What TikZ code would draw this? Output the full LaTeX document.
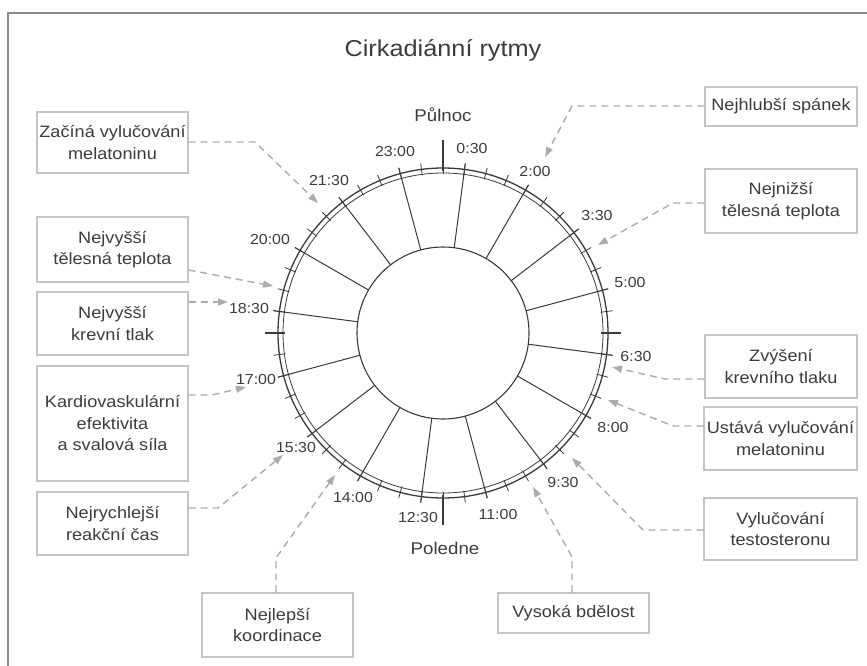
\documentclass[tikz,border=0pt]{standalone}
\usepackage{fontspec}
\setmainfont{Liberation Sans}[FakeStretch=1.1]
\usetikzlibrary{arrows.meta,calc}
\definecolor{txt}{HTML}{3C3C3C}
\definecolor{boxc}{HTML}{C4C4C4}
\definecolor{connc}{HTML}{ABABAB}
\definecolor{clk}{HTML}{3A3A3A}
\definecolor{frm}{HTML}{8A8A8A}
\begin{document}
\begin{tikzpicture}[x=1pt,y=-1pt,
  infobox/.style={draw=boxc, line width=1.1pt, text=txt, align=center, inner sep=0pt,
    font=\fontsize{16.5}{21.5}\selectfont},
  connector/.style={draw=connc, line width=1.4pt, dash pattern=on 7pt off 5pt,
    -{Triangle[length=10pt,width=7pt,fill=connc]}},
  timelbl/.style={text=txt, inner sep=0pt, font=\fontsize{14.5}{16}\selectfont},
  bigtxt/.style={text=txt, inner sep=0pt, font=\fontsize{17}{20}\selectfont},
  spoke/.style={draw=clk, line width=1.0pt},
  ringline/.style={draw=clk, line width=1.1pt},
  smalltick/.style={draw=clk, line width=0.8pt}]
\useasboundingbox (0,0) rectangle (867,666);
% frame
\draw[frm, line width=2pt] (8,670) -- (8,13) -- (870,13);
% title
\node[text=txt, inner sep=0pt, font=\fontsize{23}{26}\selectfont] (title) at (443,50) {Cirkadiánní rytmy};
% clock
\coordinate (C) at (443,333);
\begin{scope}[shift={(443,333)}]
  \draw[ringline] (0,0) circle[radius=86];
  \draw[ringline, line width=1.3pt] (0,0) circle[radius=165];
  \draw[ringline, line width=0.8pt] (0,0) circle[radius=160];
  \foreach \j in {0,...,47}{
    \pgfmathsetmacro\ang{\j*7.5-90}
    \draw[smalltick] (\ang:159) -- (\ang:171);
  }
  \foreach \k in {0,...,15}{
    \pgfmathsetmacro\ang{(0.5+1.5*\k)*15-90}
    \draw[spoke] (\ang:86) -- (\ang:171);
  }
  \draw[clk, line width=1.8pt] (-90:162) -- (-90:193);
  \draw[clk, line width=1.8pt] (90:162) -- (90:192);
  \draw[clk, line width=1.3pt] (0:158) -- (0:178);
  \draw[clk, line width=1.3pt] (180:158) -- (180:178);
\end{scope}
\node[bigtxt] (pulnoc) at (443,115) {Půlnoc};
\node[bigtxt] (poledne) at (445,548) {Poledne};
% time labels
\node[timelbl] (l2300) at (395,152) {23:00};
\node[timelbl] (l0030) at (472,149) {0:30};
\node[timelbl] (l0200) at (535,172) {2:00};
\node[timelbl] (l0330) at (597,216) {3:30};
\node[timelbl] (l0500) at (630,283) {5:00};
\node[timelbl] (l0630) at (636,357) {6:30};
\node[timelbl] (l0800) at (613,428) {8:00};
\node[timelbl] (l0930) at (563,483) {9:30};
\node[timelbl] (l1100) at (498,515) {11:00};
\node[timelbl] (l1230) at (418,518) {12:30};
\node[timelbl] (l1400) at (353,498) {14:00};
\node[timelbl] (l1530) at (296,448) {15:30};
\node[timelbl] (l1700) at (256,380) {17:00};
\node[timelbl] (l1830) at (249,309) {18:30};
\node[timelbl] (l2000) at (270,240) {20:00};
\node[timelbl] (l2130) at (329,181) {21:30};
% boxes
\node[infobox, minimum width=151pt, minimum height=61pt] (b1) at (112.5,142.5) {Začíná vylučování\\melatoninu};
\node[infobox, minimum width=151pt, minimum height=65pt] (b2) at (112.5,249.5) {Nejvyšší\\tělesná teplota};
\node[infobox, minimum width=151pt, minimum height=63pt] (b3) at (112.5,323.5) {Nejvyšší\\krevní tlak};
\node[infobox, minimum width=151pt, minimum height=115pt] (b4) at (112.5,423.5) {Kardiovaskulární\\efektivita\\a svalová síla};
\node[infobox, minimum width=151pt, minimum height=63pt] (b5) at (112.5,523.5) {Nejrychlejší\\reakční čas};
\node[infobox, minimum width=151pt, minimum height=64pt] (b6) at (277.5,625) {Nejlepší\\koordinace};
\node[infobox, minimum width=151pt, minimum height=40pt] (b7) at (573.5,613) {Vysoká bdělost};
\node[infobox, minimum width=153pt, minimum height=62pt] (b8) at (780.5,529) {Vylučování\\testosteronu};
\node[infobox, minimum width=153pt, minimum height=63pt] (b9) at (780.5,438.5) {Ustává vylučování\\melatoninu};
\node[infobox, minimum width=152pt, minimum height=63pt] (b10) at (781,366.5) {Zvýšení\\krevního tlaku};
\node[infobox, minimum width=152pt, minimum height=64pt] (b11) at (781,201) {Nejnižší\\tělesná teplota};
\node[infobox, minimum width=152pt, minimum height=39pt] (b12) at (781,106.5) {Nejhlubší spánek};
% arrow targets
\coordinate (t1) at (318,203);
\coordinate (t2) at (273,286);
\coordinate (t3) at (228,302);
\coordinate (t4) at (246,387);
\coordinate (t5) at (283,455);
\coordinate (t6) at (335,475);
\coordinate (t7) at (533,487);
\coordinate (t8) at (572,458);
\coordinate (t9) at (608,400);
\coordinate (t10) at (612,367);
\coordinate (t11) at (598,245);
\coordinate (t12) at (545,157);
% connectors
\draw[connector] (b1.east |- 0,142) -- (255,142) -- (t1);
\draw[connector] (b2.east |- 0,270) -- (t2);
\draw[connector] (b3.east |- 0,302) -- (t3);
\draw[connector] (b4.east |- 0,395) -- (212,395) -- (t4);
\draw[connector] (b5.east |- 0,508) -- (218,508) -- (t5);
\draw[connector] (b6.north -| 276,0) -- (276,558) -- (t6);
\draw[connector] (b7.north -| 572,0) -- (572,557) -- (t7);
\draw[connector] (b8.west |- 0,530) -- (643,530) -- (t8);
\draw[connector] (b9.west |- 0,426) -- (673,426) -- (t9);
\draw[connector] (b10.west |- 0,379) -- (665,379) -- (t10);
\draw[connector] (b11.west |- 0,203) -- (673,203) -- (t11);
\draw[connector] (b12.west |- 0,106) -- (572,106) -- (t12);
\end{tikzpicture}
\end{document}
